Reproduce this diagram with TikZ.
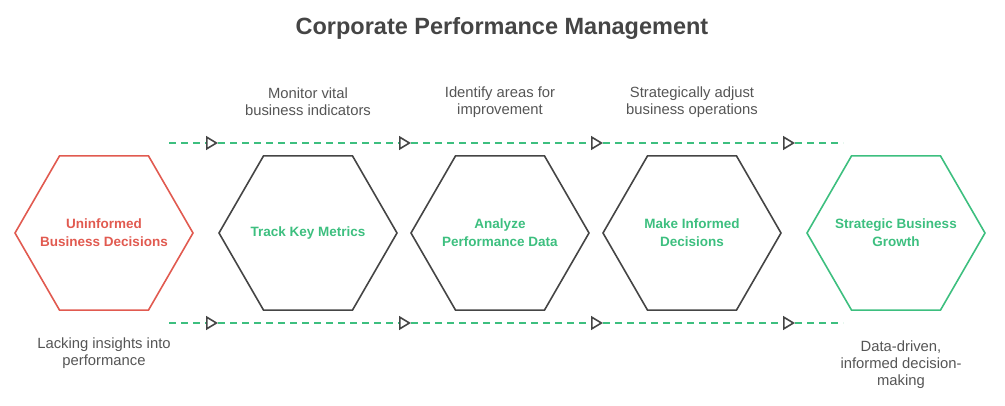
\documentclass[tikz,border=0pt]{standalone}
\usepackage{fontspec}
\setmainfont{Liberation Sans}
\usetikzlibrary{shapes.geometric,arrows.meta}
\definecolor{redc}{HTML}{E15A50}
\definecolor{greenc}{HTML}{3DBF7F}
\definecolor{darkc}{HTML}{454545}
\definecolor{textc}{HTML}{555555}

\begin{document}
\begin{tikzpicture}[x=1pt,y=-1pt,
    hexa/.style={regular polygon, regular polygon sides=6, minimum size=178pt,
      inner sep=0pt, line width=1.6pt, draw=darkc},
    hexlabel/.style={text=greenc, align=center, font=\bfseries\fontsize{13.5}{18}\selectfont},
    note/.style={text=textc, align=center, font=\fontsize{14.8}{17}\selectfont},
    flow/.style={greenc, line width=1.4pt, dash pattern=on 7pt off 5pt},
    tip/.style={-{Triangle[open, length=12pt, width=14pt, line width=1.6pt, color=darkc]}}]
    \useasboundingbox (0,0) rectangle (1005,406);
    \node[font=\bfseries\fontsize{23.5}{28}\selectfont, text=darkc] (title) at (502,28) {Corporate Performance Management};
    % hexagons
    \node[hexa, draw=redc] (h1) at (104,233) {};
    \node[hexa] (h2) at (308,233) {};
    \node[hexa] (h3) at (500,233) {};
    \node[hexa] (h4) at (692,233) {};
    \node[hexa, draw=greenc] (h5) at (896,233) {};
    \node[hexlabel, text=redc] (l1) at (h1) {Uninformed\\Business Decisions};
    \node[hexlabel] (l2) at (h2) {Track Key Metrics};
    \node[hexlabel] (l3) at (h3) {Analyze\\Performance Data};
    \node[hexlabel] (l4) at (h4) {Make Informed\\Decisions};
    \node[hexlabel] (l5) at (h5) {Strategic Business\\Growth};
    % notes
    \node[note] (n2) at (308,102) {Monitor vital\\business indicators};
    \node[note] (n3) at (500,102) {Identify areas for\\improvement};
    \node[note] (n4) at (692,102) {Strategically adjust\\business operations};
    \node[note] (n1) at (104,353) {Lacking insights into\\performance};
    \node[note] (n5) at (901,365) {Data-driven,\\informed decision-\\making};
    % dashed connectors
    \coordinate (t0) at (169,143);
    \coordinate (t1) at (218,143);
    \coordinate (t2) at (411,143);
    \coordinate (t3) at (603,143);
    \coordinate (t4) at (795,143);
    \coordinate (t5) at (843,143);
    \coordinate (b0) at (169,323);
    \coordinate (b1) at (218,323);
    \coordinate (b2) at (411,323);
    \coordinate (b3) at (603,323);
    \coordinate (b4) at (795,323);
    \coordinate (b5) at (843,323);
    \draw[flow, tip] (t0) -- (t1);
    \draw[flow, tip] (t1) -- (t2);
    \draw[flow, tip] (t2) -- (t3);
    \draw[flow, tip] (t3) -- (t4);
    \draw[flow] (t4) -- (t5);
    \draw[flow, tip] (b0) -- (b1);
    \draw[flow, tip] (b1) -- (b2);
    \draw[flow, tip] (b2) -- (b3);
    \draw[flow, tip] (b3) -- (b4);
    \draw[flow] (b4) -- (b5);
\end{tikzpicture}
\end{document}
